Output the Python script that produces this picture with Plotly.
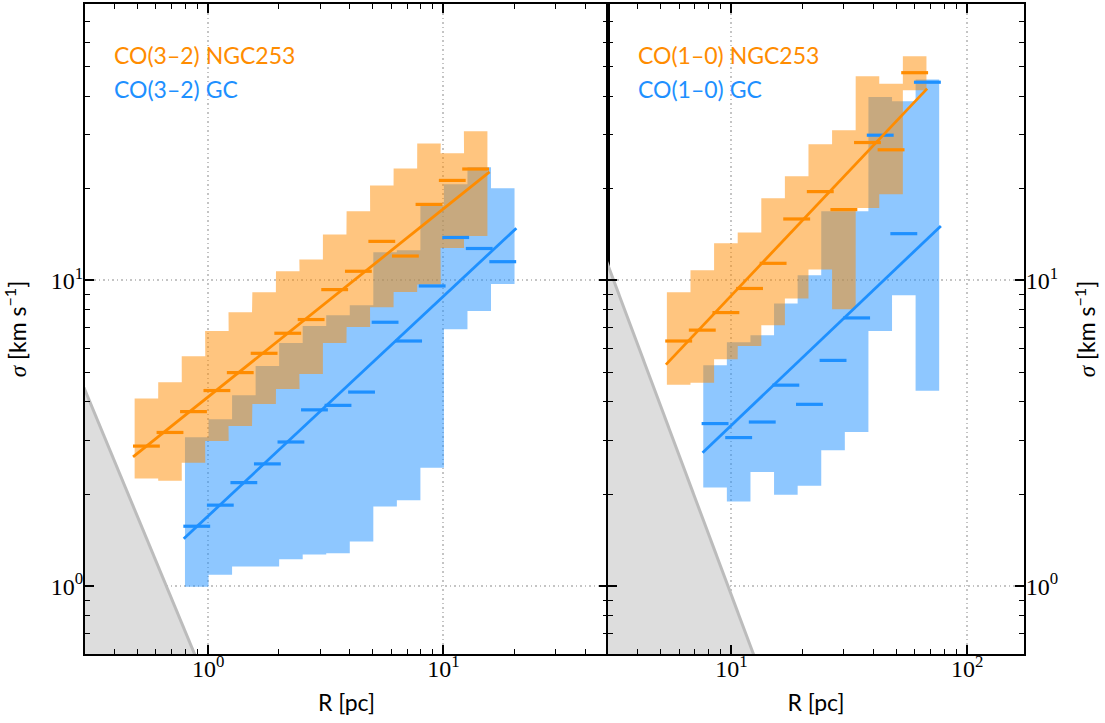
import math
import plotly.graph_objects as go

# ---------------- data ----------------
# Left panel: CO(3-2)
L_NGC_R = [0.547, 0.689, 0.867, 1.09, 1.37, 1.73, 2.18, 2.74, 3.45, 4.35, 5.47, 6.89, 8.68, 10.9, 13.7]
L_NGC_MED = [2.87, 3.18, 3.72, 4.36, 4.99, 5.77, 6.71, 7.44, 9.32, 10.7, 13.4, 12.0, 17.7, 21.2, 23.1]
L_NGC_HI = [4.11, 4.64, 5.64, 6.83, 7.86, 9.14, 10.7, 11.7, 14.1, 16.8, 20.4, 23.2, 28.0, 26.0, 30.7]
L_NGC_LO = [2.25, 2.21, 2.53, 2.98, 3.34, 3.94, 4.41, 4.94, 6.24, 7.04, 8.16, 9.16, 9.68, 12.75, 13.95]

L_GC_R = [0.895, 1.127, 1.419, 1.786, 2.249, 2.831, 3.564, 4.487, 5.649, 7.112, 8.954, 11.27, 14.19, 17.86]
L_GC_MED = [1.57, 1.84, 2.18, 2.51, 2.96, 3.77, 3.90, 4.31, 7.29, 6.33, 9.58, 13.8, 12.7, 11.5]
L_GC_HI = [3.07, 3.51, 4.21, 5.24, 6.23, 7.09, 7.69, 8.28, 12.35, 12.53, 17.6, 20.6, 23.4, 20.0]
L_GC_LO = [0.995, 1.09, 1.16, 1.16, 1.225, 1.27, 1.28, 1.40, 1.82, 1.91, 2.44, 6.92, 7.94, 9.72]

L_NGC_FIT_R = [0.48, 15.7]
L_NGC_FIT_S = [2.645, 22.6]
L_GC_FIT_R = [0.788, 20.4]
L_GC_FIT_S = [1.428, 14.8]
L_LIM_R = [0.3, 0.876]
L_LIM_S = [4.37, 0.6]

# Right panel: CO(1-0)
R_NGC_R = [5.98, 7.53, 9.48, 11.94, 15.03, 18.92, 23.82, 29.99, 37.76, 47.53, 59.84]
R_NGC_MED = [6.33, 6.87, 7.84, 9.40, 11.36, 15.86, 19.49, 17.02, 28.2, 26.7, 47.7]
R_NGC_HI = [9.14, 10.78, 13.21, 14.32, 18.53, 21.88, 27.82, 30.92, 46.4, 43.9, 53.95]
R_NGC_LO = [4.55, 4.62, 5.52, 6.10, 7.13, 8.71, 10.84, 8.04, 17.23, 19.1, 41.8]

R_GC_R = [8.53, 10.74, 13.52, 17.02, 21.43, 26.98, 33.96, 42.76, 53.83, 67.76]
R_GC_MED = [3.40, 3.06, 3.44, 4.54, 3.93, 5.47, 7.53, 29.8, 14.2, 44.4]
R_GC_HI = [5.27, 6.27, 6.61, 8.39, 10.38, 16.81, 16.81, 39.7, 38.5, 45.3]
R_GC_LO = [2.10, 1.89, 2.36, 1.99, 2.13, 2.78, 3.19, 6.83, 8.93, 4.35]

R_NGC_FIT_R = [5.28, 67.6]
R_NGC_FIT_S = [5.30, 42.3]
R_GC_FIT_R = [7.55, 77.3]
R_GC_FIT_S = [2.73, 15.05]
R_LIM_R = [3.0, 12.4]
R_LIM_S = [11.2, 0.6]

LABELS_L = ["CO(3–2) NGC253", "CO(3–2) GC"]
LABELS_R = ["CO(1–0) NGC253", "CO(1–0) GC"]

# ---------------- styles ----------------
ORANGE = "#FF8C00"
BLUE = "#1E90FF"
ORANGE_FILL = "rgba(255,140,0,0.5)"
BLUE_FILL = "rgba(30,144,255,0.5)"
HALF_BIN = 10 ** 0.05      # bins are 0.1 dex wide
HALF_BAR = 10 ** 0.057
SANS = "Lato, 'DejaVu Sans', sans-serif"
SERIF = "'Liberation Serif', 'DejaVu Serif', serif"

fig = go.Figure()


def step_band(R, hi, lo, color, xa, ya):
    xs, ys = [], []
    for c, h in zip(R, hi):
        xs += [c / HALF_BIN, c * HALF_BIN]
        ys += [h, h]
    for c, l in zip(reversed(R), reversed(lo)):
        xs += [c * HALF_BIN, c / HALF_BIN]
        ys += [l, l]
    fig.add_trace(go.Scatter(x=xs, y=ys, fill="toself", fillcolor=color, mode="lines",
                             line=dict(width=0), hoverinfo="skip", showlegend=False,
                             xaxis=xa, yaxis=ya))


def medians(R, med, color, xa, ya):
    xs, ys = [], []
    for c, m in zip(R, med):
        xs += [c / HALF_BAR, c * HALF_BAR, None]
        ys += [m, m, None]
    fig.add_trace(go.Scatter(x=xs, y=ys, mode="lines", line=dict(color=color, width=3.2),
                             hoverinfo="skip", showlegend=False, xaxis=xa, yaxis=ya))


def fit(R, S, color, xa, ya):
    fig.add_trace(go.Scatter(x=R, y=S, mode="lines", line=dict(color=color, width=2.8),
                             hoverinfo="skip", showlegend=False, xaxis=xa, yaxis=ya))


def limit(R, S, xa, ya):
    slope = math.log10(S[1] / S[0]) / math.log10(R[1] / R[0])
    r0 = R[0] / 1.5
    r1 = R[1] * 1.5
    s0 = S[0] * (r0 / R[0]) ** slope
    s1 = S[0] * (r1 / R[0]) ** slope
    fig.add_trace(go.Scatter(x=[r0, r1, r0, r0], y=[s0, s1, s1, s0], fill="toself",
                             fillcolor="#dddddd", mode="lines", line=dict(width=0),
                             hoverinfo="skip", showlegend=False, xaxis=xa, yaxis=ya))
    fig.add_trace(go.Scatter(x=[r0, r1], y=[s0, s1], mode="lines",
                             line=dict(color="#bcbcbc", width=3),
                             hoverinfo="skip", showlegend=False, xaxis=xa, yaxis=ya))


for (xa, ya, lim, gc, ngc) in [
    ("x", "y", (L_LIM_R, L_LIM_S),
     (L_GC_R, L_GC_MED, L_GC_HI, L_GC_LO, L_GC_FIT_R, L_GC_FIT_S),
     (L_NGC_R, L_NGC_MED, L_NGC_HI, L_NGC_LO, L_NGC_FIT_R, L_NGC_FIT_S)),
    ("x2", "y2", (R_LIM_R, R_LIM_S),
     (R_GC_R, R_GC_MED, R_GC_HI, R_GC_LO, R_GC_FIT_R, R_GC_FIT_S),
     (R_NGC_R, R_NGC_MED, R_NGC_HI, R_NGC_LO, R_NGC_FIT_R, R_NGC_FIT_S)),
]:
    limit(lim[0], lim[1], xa, ya)
    step_band(gc[0], gc[2], gc[3], BLUE_FILL, xa, ya)
    step_band(ngc[0], ngc[2], ngc[3], ORANGE_FILL, xa, ya)
    medians(gc[0], gc[1], BLUE, xa, ya)
    fit(gc[4], gc[5], BLUE, xa, ya)
    medians(ngc[0], ngc[1], ORANGE, xa, ya)
    fit(ngc[4], ngc[5], ORANGE, xa, ya)


def minor_vals(e0, e1):
    return [m * 10 ** e for e in range(e0, e1 + 1) for m in range(2, 10)]


def sup(e):
    return "10<sup>%d</sup>" % e


axis_common = dict(
    type="log", showline=True, linecolor="black", linewidth=2, mirror="ticks",
    ticks="inside", ticklen=9, tickwidth=1.5, tickcolor="black",
    showgrid=True, gridcolor="#c4c4c4", griddash="1.5px,3px", gridwidth=1.5, zeroline=False,
    tickfont=dict(family=SERIF, size=24, color="black"),
    automargin=False,
)
minor_common = dict(ticks="inside", ticklen=5, tickwidth=1.2, tickcolor="black", showgrid=False)

split = 523 / 939
ytitle = ("<span style=\"font-family:'Liberation Serif'\"><i>σ</i></span> "
          "[km s<sup>−1</sup>]")
title_font = dict(family=SANS, size=23, color="black")

fig.update_layout(
    width=1105, height=723,
    margin=dict(l=85, r=81, t=4, b=69, autoexpand=False),
    paper_bgcolor="white", plot_bgcolor="white",
    showlegend=False,
    xaxis=dict(axis_common, domain=[0, split], anchor="y",
               range=[-0.5229, 1.699], ticklabelstandoff=-8,
               tickvals=[1, 10], ticktext=[sup(0), sup(1)],
               minor=dict(minor_common, tickvals=minor_vals(-1, 1)),
               title=dict(text="R [pc]", font=title_font, standoff=14)),
    xaxis2=dict(axis_common, domain=[split, 1], anchor="y2",
                range=[0.4771, 2.2405], ticklabelstandoff=-8,
                tickvals=[10, 100], ticktext=[sup(1), sup(2)],
                minor=dict(minor_common, tickvals=minor_vals(0, 2)),
                title=dict(text="R [pc]", font=title_font, standoff=14)),
    yaxis=dict(axis_common, domain=[0, 1], anchor="x",
               range=[-0.2218, 1.9031], ticklabelstandoff=-5,
               tickvals=[1, 10], ticktext=[sup(0), sup(1)],
               minor=dict(minor_common, tickvals=minor_vals(-1, 1)),
               title=dict(text=ytitle, font=title_font, standoff=20)),
    yaxis2=dict(axis_common, domain=[0, 1], anchor="x2", side="right",
                range=[-0.2218, 1.9031], ticklabelstandoff=-5,
                tickvals=[1, 10], ticktext=[sup(0), sup(1)],
                minor=dict(minor_common, tickvals=minor_vals(-1, 1)),
                title=dict(text=ytitle, font=title_font, standoff=22)),
)

for xref, yref, labels in [("x domain", "y domain", LABELS_L), ("x2 domain", "y2 domain", LABELS_R)]:
    xpos = 0.051 if xref == "x domain" else 0.0666
    for text, color, ypos in zip(labels, [ORANGE, BLUE], [0.921, 0.870]):
        fig.add_annotation(text=text, xref=xref, yref=yref, x=xpos, y=ypos,
                           xanchor="left", yanchor="middle", showarrow=False,
                           font=dict(family=SANS, size=23, color=color))

fig.write_html("out.html", config={"displayModeBar": False},
               post_script="document.body.style.margin='0';")
